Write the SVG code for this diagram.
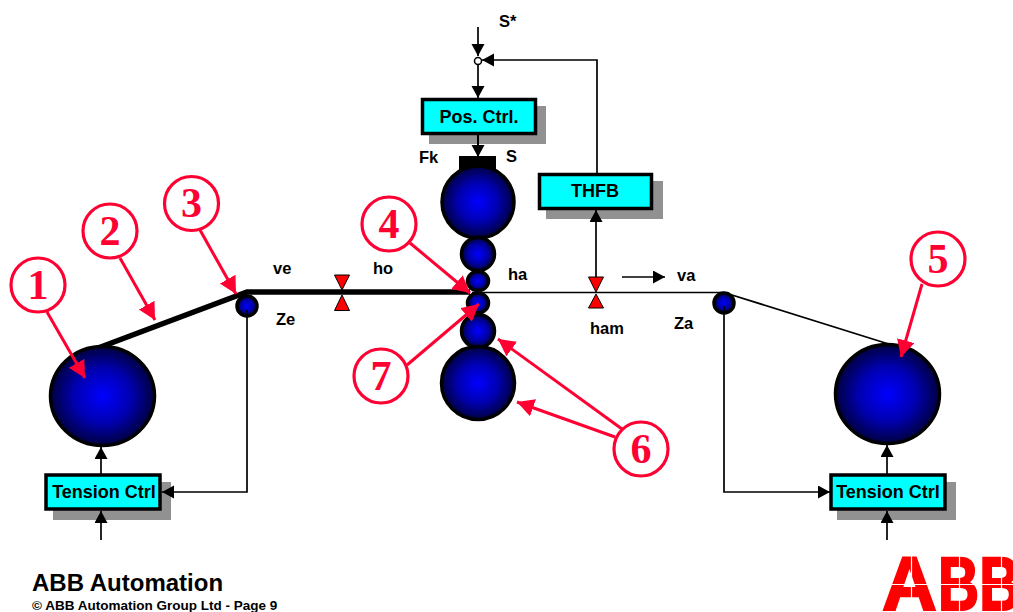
<svg xmlns="http://www.w3.org/2000/svg" width="1013" height="612" viewBox="0 0 1013 612">
<style>
text{font-family:"Liberation Sans",Arial,sans-serif;font-weight:bold;fill:#000}
.lbl{font-size:16.500px}
.box{fill:#00ffff;stroke:#000;stroke-width:3.5}
.boxt{font-size:18px;text-anchor:middle}
.sh{fill:#919191}
.ball{fill:url(#g);stroke:#000;stroke-width:3.5}
.line{fill:none;stroke:#000;stroke-width:1.7}
.arr{marker-end:url(#ah)}
.web{fill:none;stroke:#000;stroke-width:5.500}
.rl{fill:none;stroke:#ff0033;stroke-width:3;marker-end:url(#rh)}
.cc{fill:#fff;stroke:#ff0033;stroke-width:3.200}
.cn{font-family:"Liberation Serif","Times New Roman",serif;font-size:42px;fill:#ff0033;text-anchor:middle}
.tri{fill:#ff0000;stroke:#000;stroke-width:1}
.wh{stroke:#fff;stroke-width:1.200}
.abb{fill:#ff0000;stroke:#ff0000;stroke-width:2}
</style>
<defs>
<radialGradient id="g"><stop offset="0" stop-color="#0000ff"/><stop offset="0.55" stop-color="#0000b0"/><stop offset="1" stop-color="#000040"/></radialGradient>
<marker id="ah" markerUnits="userSpaceOnUse" markerWidth="14" markerHeight="14" refX="12" refY="6.500" orient="auto"><path d="M0 0L12 6.500L0 13z" fill="#000"/></marker>
<marker id="rh" markerUnits="userSpaceOnUse" markerWidth="20" markerHeight="20" refX="17" refY="9" orient="auto"><path d="M0 0L17 9L0 18z" fill="#ff0033"/></marker>
</defs>

<g id="web">
<path class="web" d="M98 348L247 292L470 292"/>
<path class="line" d="M472 292.500H724L895 346"/>
</g>

<g id="uncoiler"><ellipse class="ball" cx="102.500" cy="396" rx="52" ry="49.500"/></g>
<g id="coiler"><ellipse class="ball" cx="887.500" cy="394" rx="52" ry="49.500"/></g>
<g id="fk-block"><rect x="459" y="156" width="37" height="17" fill="#000"/></g>
<g id="roll-top-backup"><circle class="ball" cx="478" cy="202" r="36"/></g>
<g id="roll-top-intermediate"><circle class="ball" cx="478" cy="254" r="16.500"/></g>
<g id="roll-top-work"><ellipse class="ball" cx="478" cy="281" rx="10.500" ry="9.500"/></g>
<g id="roll-bottom-work"><ellipse class="ball" cx="478" cy="303" rx="10.500" ry="10"/></g>
<g id="roll-bottom-intermediate"><circle class="ball" cx="478" cy="331" r="16.500"/></g>
<g id="roll-bottom-backup"><circle class="ball" cx="478" cy="383" r="36.500"/></g>
<g id="deflector-in"><circle class="ball" cx="247" cy="306" r="10"/></g>
<g id="deflector-out"><circle class="ball" cx="724" cy="303" r="10"/></g>

<g id="tension-left"><rect class="sh" x="53" y="482" width="118" height="38"/><rect class="box" x="46" y="475" width="114" height="34"/><text class="boxt" x="104" y="498">Tension Ctrl</text></g>
<g id="tension-right"><rect class="sh" x="837" y="482" width="119" height="38"/><rect class="box" x="831" y="475" width="114" height="34"/><text class="boxt" x="888" y="498">Tension Ctrl</text></g>
<g id="pos-ctrl"><rect class="sh" x="429" y="106" width="117" height="38"/><rect class="box" x="422.500" y="99.500" width="113" height="34"/><text class="boxt" x="479" y="123">Pos. Ctrl.</text></g>
<g id="thfb"><rect class="sh" x="546" y="181" width="117" height="38"/><rect class="box" x="539.500" y="174.500" width="112" height="34"/><text class="boxt" x="595" y="197">THFB</text></g>

<g id="connectors">
<path class="line arr" d="M478 27V56"/>
<path class="line arr" d="M478 65V98"/>
<path class="line arr" d="M597 173V60H482"/>
<path class="line arr" style="stroke-width:2" d="M478 135V157"/>
<path class="line arr" d="M596 277V210"/>
<path class="line arr" d="M622 277H665"/>
<path class="line arr" d="M247 310V492H162"/>
<path class="line arr" d="M724 306V492H830"/>
<path class="line arr" d="M101 540V511"/>
<path class="line arr" d="M101 474V447"/>
<path class="line arr" d="M887 540V511"/>
<path class="line arr" d="M887 474V445"/>
</g>

<g id="sum"><circle cx="478" cy="61" r="3.500" fill="#fff" stroke="#000" stroke-width="1.500"/></g>

<g id="gauge-in"><path class="tri" d="M334.500 275H349.500L342 290z"/><path class="tri" d="M334.500 310.500H349.500L342 295z"/></g>
<g id="gauge-out"><path class="tri" d="M588.500 277H603.500L596 292z"/><path class="tri" d="M588.500 308H603.500L596 294z"/></g>

<g id="labels">
<text class="lbl" x="499" y="27">S*</text>
<text class="lbl" x="419" y="163">Fk</text>
<text class="lbl" x="506" y="162">S</text>
<text class="lbl" x="273" y="274">ve</text>
<text class="lbl" x="373" y="274">ho</text>
<text class="lbl" x="508" y="280">ha</text>
<text class="lbl" x="677" y="281">va</text>
<text class="lbl" x="276" y="325">Ze</text>
<text class="lbl" x="674" y="329">Za</text>
<text class="lbl" x="590" y="334">ham</text>
</g>

<g id="callouts">
<path class="rl" d="M47 312L85 378"/>
<path class="rl" d="M120 258L155 320"/>
<path class="rl" d="M200 230L236 294"/>
<path class="rl" d="M410 243L470 293"/>
<path class="rl" d="M407 365L479 304"/>
<path class="rl" d="M922 284L901 357"/>
<path class="rl" d="M622 429L498 339"/>
<path class="rl" d="M615 437L517 402"/>
</g>
<g id="callout-1"><circle class="cc" cx="38" cy="285" r="27"/><text class="cn" x="38" y="299">1</text></g>
<g id="callout-2"><circle class="cc" cx="110" cy="231" r="27"/><text class="cn" x="110" y="245">2</text></g>
<g id="callout-3"><circle class="cc" cx="191.500" cy="203.500" r="27"/><text class="cn" x="191.500" y="217">3</text></g>
<g id="callout-4"><circle class="cc" cx="389" cy="224" r="27"/><text class="cn" x="389" y="238">4</text></g>
<g id="callout-5"><circle class="cc" cx="938" cy="259" r="27"/><text class="cn" x="938" y="273">5</text></g>
<g id="callout-6"><circle class="cc" cx="641" cy="449" r="27"/><text class="cn" x="641" y="463">6</text></g>
<g id="callout-7"><circle class="cc" cx="381" cy="376" r="27"/><text class="cn" x="381" y="390">7</text></g>

<g id="footer">
<text x="32" y="591" font-size="24">ABB Automation</text>
<text x="32" y="610" font-size="13.500">© ABB Automation Group Ltd - Page 9</text>
</g>

<g id="abb-logo">
<text class="abb" x="882" y="610" font-size="76">A</text>
<text class="abb" transform="translate(938,610) scale(0.75,1)" font-size="76">BB</text>
<path class="wh" d="M880 584.500H1013M911.500 556V612M959.500 556V612M1001.500 556V612"/>
</g>
</svg>
